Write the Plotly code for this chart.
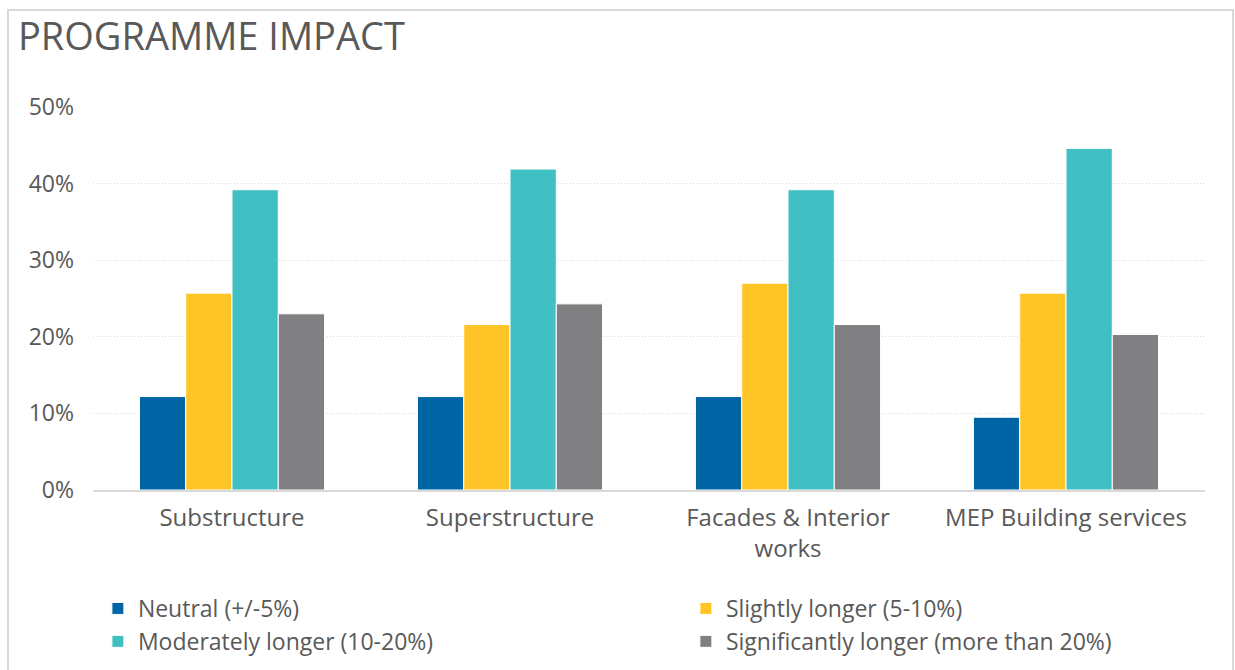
import plotly.graph_objects as go

# Share of responses per work package (percent)
categories = ["Substructure", "Superstructure", "Facades & Interior<br>works", "MEP Building services"]
series_names = [
    "Neutral (+/-5%)",
    "Slightly longer (5-10%)",
    "Moderately longer (10-20%)",
    "Significantly longer (more than 20%)",
]
neutral = [12.2, 12.2, 12.2, 9.5]
slightly_longer = [25.7, 21.6, 27.0, 25.7]
moderately_longer = [39.2, 41.9, 39.2, 44.6]
significantly_longer = [23.0, 24.3, 21.6, 20.3]
y_ticks = [0, 10, 20, 30, 40, 50]
y_tick_labels = ["0%", "10%", "20%", "30%", "40%", "50%"]

colors = ["#0065A4", "#FFC425", "#40C0C2", "#808083"]
values = [neutral, slightly_longer, moderately_longer, significantly_longer]

FONT = "Open Sans"
TEXT = "#595959"
GRID = "#D9D9D9"

fig = go.Figure()
for name, vals, col in zip(series_names, values, colors):
    fig.add_trace(go.Bar(
        x=categories, y=vals, name=name,
        marker=dict(color=col, line=dict(color="white", width=1)),
    ))

W, H = 1235, 670
ml, mr, mt, mb = 93, 30, 107, 180
pw, ph = W - ml - mr, H - mt - mb

fig.update_layout(
    width=W, height=H,
    margin=dict(l=ml, r=mr, t=mt, b=mb, autoexpand=False),
    paper_bgcolor="white", plot_bgcolor="white",
    barmode="group", bargap=0.334, bargroupgap=0,
    font=dict(family=FONT, color=TEXT, size=24),
    title=dict(
        text="PROGRAMME IMPACT", x=18 / W, xanchor="left", xref="container",
        y=1 - 37 / H, yanchor="middle", yref="container",
        font=dict(family=FONT, size=38, color=TEXT),
    ),
    showlegend=True,
    legend=dict(
        orientation="h", x=-0.001, xanchor="left",
        y=-(587 - mt - ph) / ph, yanchor="top",
        entrywidth=537, entrywidthmode="pixels",
        indentation=6,
        font=dict(family=FONT, size=23, color=TEXT),
        traceorder="normal", itemwidth=30, tracegroupgap=0,
        bgcolor="rgba(0,0,0,0)",
    ),
    xaxis=dict(
        showgrid=False, showline=True, linecolor=GRID, linewidth=2,
        ticks="", tickfont=dict(family=FONT, size=24, color=TEXT),
        ticklabelstandoff=5,
    ),
    yaxis=dict(
        range=[0, 50], tickvals=y_ticks, ticktext=y_tick_labels,
        showgrid=True, gridcolor=GRID, gridwidth=1, griddash="1px,2px",
        zeroline=False, showline=False, ticks="",
        tickfont=dict(family=FONT, size=23, color=TEXT),
        ticklabelstandoff=18,
    ),
)

# outer chart frame
fig.add_shape(
    type="rect", xref="paper", yref="paper",
    x0=(8 - ml) / pw, x1=(1233 - ml) / pw,
    y0=(mt + ph - 700) / ph, y1=(mt + ph - 10) / ph,
    line=dict(color=GRID, width=2), fillcolor="rgba(0,0,0,0)", layer="below",
)

fig.write_html("out.html")
